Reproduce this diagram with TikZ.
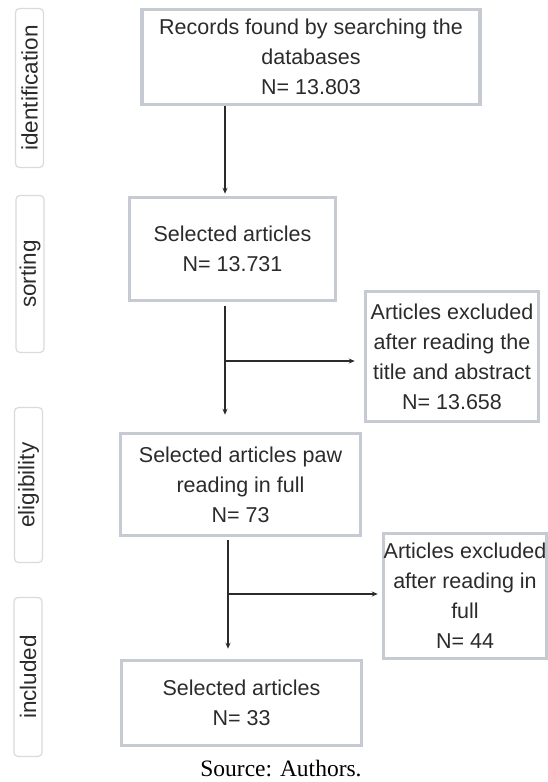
\documentclass[tikz,border=0pt]{standalone}
\usepackage{fontspec}
\setmainfont{Liberation Sans}
\newfontfamily\srcfont{Liberation Serif}
\usepackage{tikz}
\usetikzlibrary{arrows.meta}
\usepackage{xcolor}
\definecolor{boxgray}{HTML}{C6CBD3}
\definecolor{tabgray}{HTML}{DADADA}
\definecolor{inkgray}{HTML}{2B2B2B}

\begin{document}
\begin{tikzpicture} [x=1pt, y=-1pt,
    box/.style={draw=boxgray, line width=3.5pt, align=center, text=inkgray, inner sep=0pt,
      font=\fontsize{21.5}{30}\selectfont},
    phase/.style={draw=tabgray, line width=1.2pt, rounded corners=4pt, rotate=90,
      minimum height=28pt, inner sep=0pt, text=inkgray, font=\fontsize{22.5}{26}\selectfont}
  ]
  \useasboundingbox (0,0) rectangle (547,782);
  % phases on the left
  \node[phase, minimum width=159pt] (ident) at (29.5,88) {identification};
  \node[phase, minimum width=157pt] (sort) at (30,274) {sorting};
  \node[phase, minimum width=155pt] (elig) at (28.5,485) {eligibility};
  \node[phase, minimum width=159pt] (incl) at (28,677) {included};
  % flow boxes
  \node[box, minimum width=338pt, minimum height=95pt] (records) at (311,57)
    {Records found by searching the\\ databases\\ N= 13.803};
  \node[box, minimum width=206pt, minimum height=103pt] (selected) at (232.5,249)
    {Selected articles\\ N= 13.731};
  \node[box, minimum width=173pt, minimum height=130pt] (excltitle) at (452,356.5)
    {Articles excluded\\ after reading the\\ title and abstract\\ N= 13.658};
  \node[box, minimum width=240pt, minimum height=102pt] (fullread) at (240.5,484.5)
    {Selected articles paw\\ reading in full\\ N= 73};
  \node[box, minimum width=163pt, minimum height=125pt] (exclfull) at (465,596)
    {Articles excluded\\ after reading in\\ full\\ N= 44};
  \node[box, minimum width=240pt, minimum height=85pt] (final) at (241.5,703)
    {Selected articles\\ N= 33};
  \node[font=\srcfont\fontsize{23.5}{26}\selectfont] (source) at (281,769) {Source: Authors.};
  % split points
  \coordinate (split1) at (225,361);
  \coordinate (split2) at (228,594);
  \path[->, color=inkgray, line width=1.2pt, >={Stealth[length=6pt,width=5pt]}]
  (records.south -| split1) edge[shorten >=2pt] (selected.north -| split1)
  (selected.south -| split1) edge[shorten <=4pt, shorten >=17pt] (fullread.north -| split1)
  (split1) edge[shorten >=9pt] (excltitle.west |- split1)
  (fullread.south -| split2) edge[shorten <=3pt, shorten >=10pt] (final.north -| split2)
  (split2) edge[shorten >=4pt] (exclfull.west |- split2)
  ;
\end{tikzpicture}
\end{document}
